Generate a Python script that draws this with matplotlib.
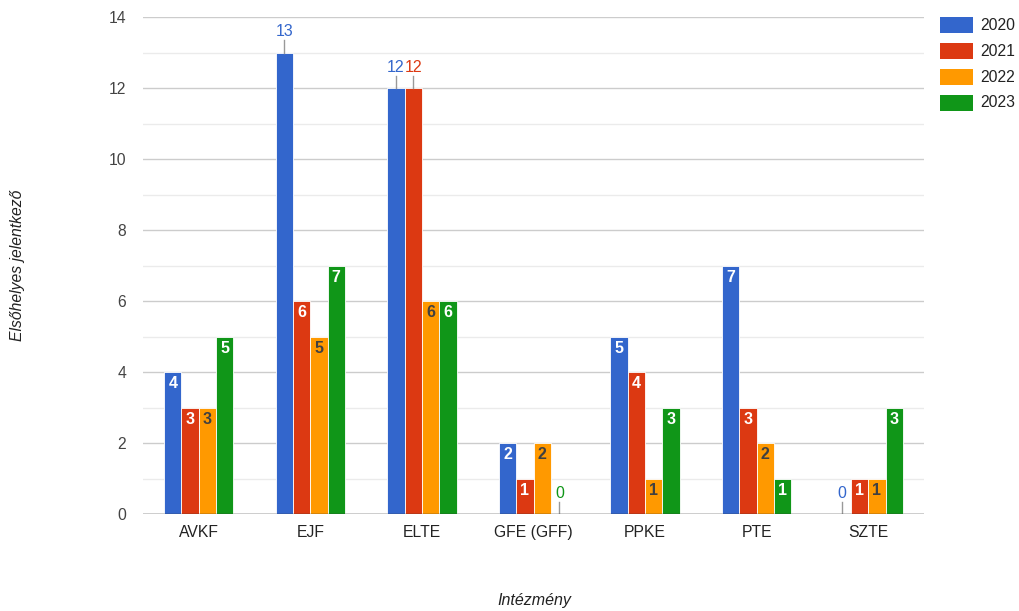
import matplotlib
matplotlib.use("Agg")
import matplotlib.pyplot as plt
from matplotlib.patches import Rectangle
import numpy as np

plt.rcParams['font.family'] = ['Liberation Sans', 'DejaVu Sans']

categories = ["AVKF", "EJF", "ELTE", "GFE (GFF)", "PPKE", "PTE", "SZTE"]
series_names = ["2020", "2021", "2022", "2023"]
v2020 = [4, 13, 12, 2, 5, 7, 0]
v2021 = [3, 6, 12, 1, 4, 3, 1]
v2022 = [3, 5, 6, 2, 1, 2, 1]
v2023 = [5, 7, 6, 0, 3, 1, 3]
series = [v2020, v2021, v2022, v2023]
colors = ["#3366CC", "#DC3912", "#FF9900", "#109618"]
inside_text_colors = ["white", "white", "#404040", "white"]
y_ticks = [0, 2, 4, 6, 8, 10, 12, 14]
y_minor = [1, 3, 5, 7, 9, 11, 13]

W, H = 1019, 611
fig = plt.figure(figsize=(W/100, H/100), dpi=100)
ax = fig.add_axes([143/W, 1 - 514/H, (924-143)/W, (514-17)/H])

x = np.arange(len(categories))
bw = 0.155
offsets = (np.arange(4) - 1.5) * bw
for i, (vals, col) in enumerate(zip(series, colors)):
    ax.bar(x + offsets[i], vals, width=bw, color=col, edgecolor='white',
           linewidth=0.6, zorder=3)
    for xi, v in zip(x + offsets[i], vals):
        if v == 0 or v >= 12:
            ax.plot([xi, xi], [v, v + 0.34], color='#999999', lw=1, zorder=4)
            ax.annotate(str(v), (xi, v + 0.34), xytext=(0, 1), textcoords='offset points',
                        ha='center', va='bottom', color=col, fontsize=11.5, zorder=5)
        else:
            ax.annotate(str(v), (xi, v), xytext=(0, -3), textcoords='offset points',
                        ha='center', va='top', color=inside_text_colors[i],
                        fontsize=11.5, fontweight='bold', zorder=5)

ax.set_xlim(-0.5, len(categories) - 0.5)
ax.set_ylim(0, 14)
ax.set_yticks(y_ticks)
ax.set_yticks(y_minor, minor=True)
ax.set_xticks(x)
ax.set_xticklabels(categories)
ax.tick_params(axis='both', which='both', length=0, labelsize=11.3, colors='#444444')
ax.tick_params(axis='x', colors='#222222')
ax.tick_params(axis='y', pad=12)
ax.tick_params(axis='x', pad=8)
ax.grid(axis='y', which='major', color='#cccccc', lw=1, zorder=0)
ax.grid(axis='y', which='minor', color='#ebebeb', lw=1, zorder=0)
for s in ax.spines.values():
    s.set_visible(False)
ax.axhline(0, color='#333333', lw=1, zorder=6)

fig.text(18/W, 1 - 265/H, "Elsőhelyes jelentkező", rotation=90, ha='center', va='center',
         fontsize=11.3, style='italic', color='#222222')
fig.text(534/W, 1 - 601/H, "Intézmény", ha='center', va='center',
         fontsize=11.5, style='italic', color='#222222')

# legend
for k, (name, col) in enumerate(zip(series_names, colors)):
    top = 17 + k * 26
    fig.add_artist(Rectangle((940/W, 1 - (top + 16)/H), 33/W, 16/H, facecolor=col,
                             edgecolor='none', transform=fig.transFigure))
    fig.text(980/W, 1 - (top + 8)/H, name, ha='left', va='center', fontsize=11.3,
             color='#222222')

fig.savefig("out.png", dpi=100)
